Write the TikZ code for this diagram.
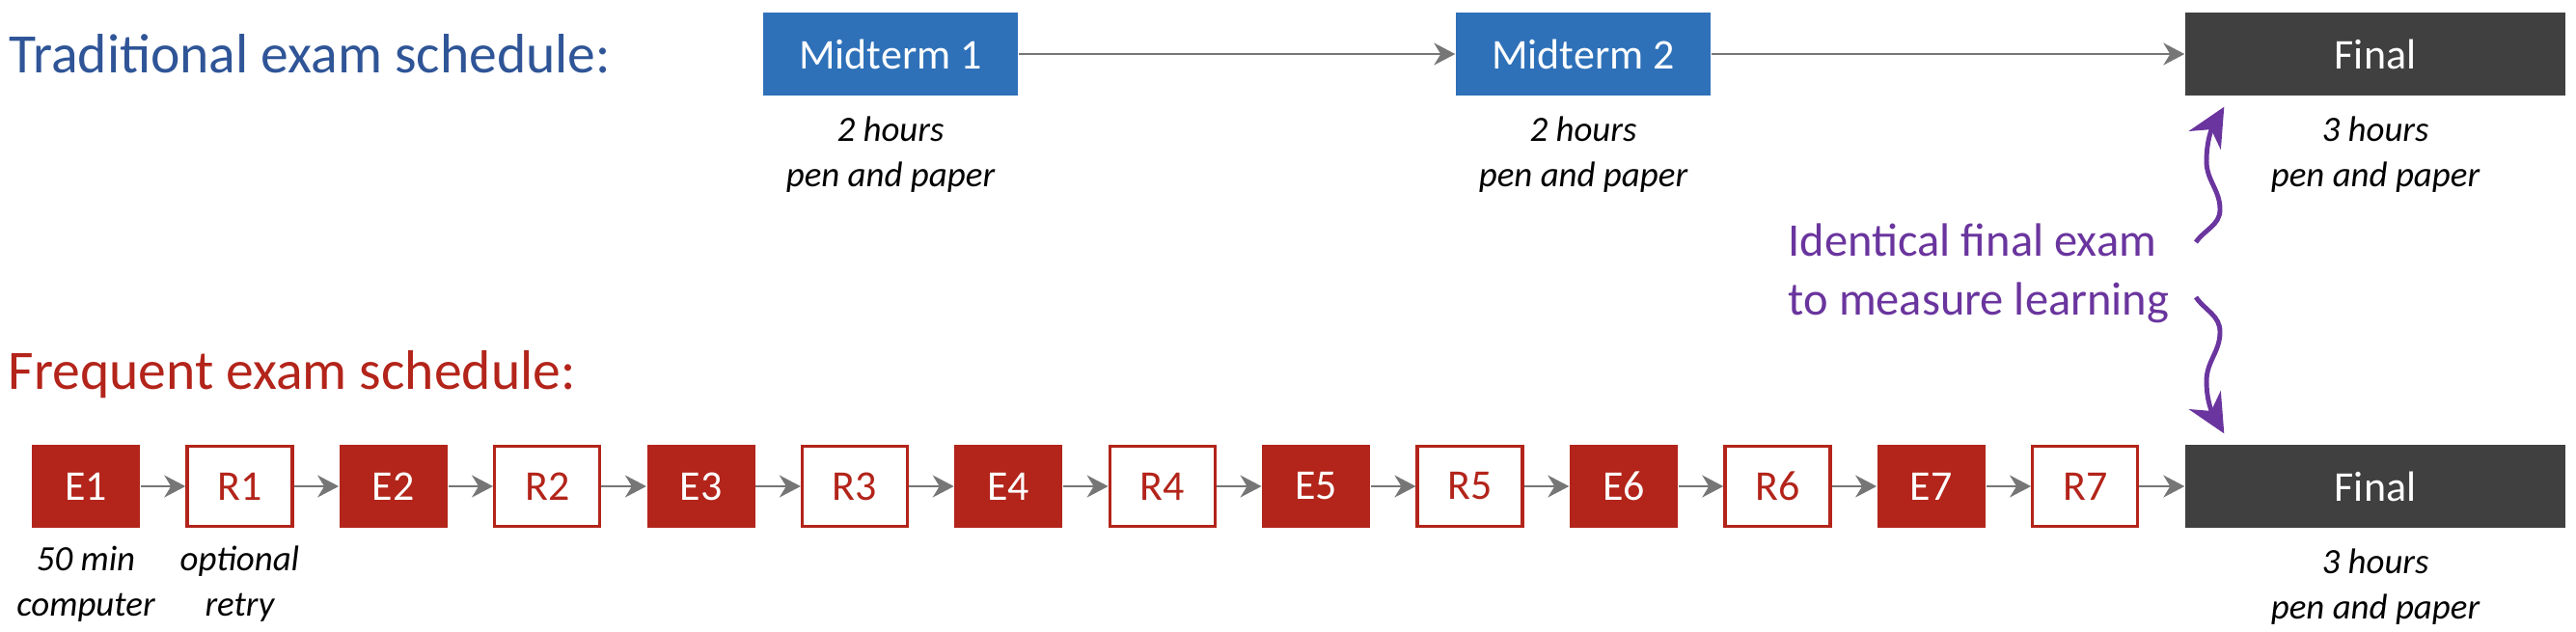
\documentclass[tikz,border=0pt]{standalone}
\usepackage{fontspec}
\setmainfont{Carlito}
\usetikzlibrary{arrows.meta}

\definecolor{tradblue}{HTML}{2F5597}
\definecolor{midblue}{HTML}{2E71B9}
\definecolor{freqred}{HTML}{B3241A}
\definecolor{finalgray}{HTML}{404040}
\definecolor{flowgray}{HTML}{767676}
\definecolor{linkpurple}{HTML}{6A359E}

\begin{document}
\begin{tikzpicture}[
   heading/.style={anchor=base west, inner sep=0pt, font=\fontsize{16.4}{19}\selectfont},
   midterm/.style={rectangle, fill=midblue, text=white, minimum width=2.64cm, minimum height=0.86cm, inner sep=0pt, font=\fontsize{12.5}{15}\selectfont},
   final/.style={rectangle, fill=finalgray, text=white, minimum width=3.94cm, minimum height=0.86cm, inner sep=0pt, font=\fontsize{12.5}{15}\selectfont},
   exambox/.style={rectangle, fill=freqred, text=white, minimum width=1.12cm, minimum height=0.86cm, inner sep=0pt, font=\fontsize{12.5}{15}\selectfont},
   retrybox/.style={rectangle, draw=freqred, line width=0.95pt, fill=white, text=freqred, minimum width=1.09cm, minimum height=0.83cm, inner sep=0pt, font=\fontsize{12.5}{15}\selectfont},
   note/.style={anchor=base, align=center, inner sep=0pt, font=\itshape\fontsize{10.5}{13.3}\selectfont},
   flow/.style={draw=flowgray, line width=0.5pt, -{Stealth[length=0.22cm, width=0.23cm, inset=0.07cm]}},
   link/.style={draw=linkpurple, line width=1.4pt, -{Stealth[length=0.4cm, width=0.38cm, inset=0.13cm]}}
  ]
   \useasboundingbox (0,0) rectangle (26.70,-6.54);

   % traditional schedule
   \node[heading, text=tradblue] (trad) at (0.09,-0.75) {Traditional exam schedule:};
   \node[midterm] (mid1) at (9.23,-0.56) {Midterm 1};
   \node[midterm] (mid2) at (16.41,-0.56) {Midterm 2};
   \node[final] (ftop) at (24.62,-0.56) {Final};
   \draw[flow] (mid1) -- (mid2);
   \draw[flow] (mid2) -- (ftop);
   \node[note] (mid1note) at ([yshift=-0.94cm]mid1.south) {2 hours\\pen and paper};
   \node[note] (mid2note) at ([yshift=-0.94cm]mid2.south) {2 hours\\pen and paper};
   \node[note] (ftopnote) at ([yshift=-0.94cm]ftop.south) {3 hours\\pen and paper};

   % frequent schedule
   \node[heading, text=freqred] (freq) at (0.08,-4.03) {Frequent exam schedule:};
   \node[exambox] (e1) at (0.89,-5.04) {E1};
   \node[retrybox] (r1) at (2.484,-5.04) {R1};
   \node[exambox] (e2) at (4.078,-5.04) {E2};
   \node[retrybox] (r2) at (5.672,-5.04) {R2};
   \node[exambox] (e3) at (7.266,-5.04) {E3};
   \node[retrybox] (r3) at (8.86,-5.04) {R3};
   \node[exambox] (e4) at (10.454,-5.04) {E4};
   \node[retrybox] (r4) at (12.048,-5.04) {R4};
   \node[exambox] (e5) at (13.642,-5.04) {E5};
   \node[retrybox] (r5) at (15.236,-5.04) {R5};
   \node[exambox] (e6) at (16.83,-5.04) {E6};
   \node[retrybox] (r6) at (18.424,-5.04) {R6};
   \node[exambox] (e7) at (20.018,-5.04) {E7};
   \node[retrybox] (r7) at (21.612,-5.04) {R7};
   \node[final] (fbot) at (24.62,-5.04) {Final};
   \draw[flow] (e1) -- (r1); \draw[flow] (r1) -- (e2);
   \draw[flow] (e2) -- (r2); \draw[flow] (r2) -- (e3);
   \draw[flow] (e3) -- (r3); \draw[flow] (r3) -- (e4);
   \draw[flow] (e4) -- (r4); \draw[flow] (r4) -- (e5);
   \draw[flow] (e5) -- (r5); \draw[flow] (r5) -- (e6);
   \draw[flow] (e6) -- (r6); \draw[flow] (r6) -- (e7);
   \draw[flow] (e7) -- (r7); \draw[flow] (r7) -- (fbot);
   \node[note] (e1note) at ([yshift=-0.91cm]e1.south) {50 min\\computer};
   \node[note] (r1note) at ([yshift=-0.91cm]r1.south) {optional\\retry};
   \node[note] (fbotnote) at ([yshift=-0.94cm]fbot.south) {3 hours\\pen and paper};

   % same final exam
   \node[anchor=base west, align=left, inner sep=0pt, text=linkpurple, font=\fontsize{13.8}{17.3}\selectfont] (same) at (18.53,-3.26) {Identical final exam\\to measure learning};
   \coordinate (uptail) at (22.76,-2.51);
   \coordinate (uptip) at ([shift={(0.41,-0.11)}]ftop.south west);
   \coordinate (downtail) at (22.76,-3.08);
   \coordinate (downtip) at ([shift={(0.41,0.11)}]fbot.north west);
   \draw[link] (uptail) to[out=55, in=-90] (23.01,-2.17) to[out=90, in=-90] (22.87,-1.67) to[out=90, in=-120] (uptip);
   \draw[link] (downtail) to[out=-55, in=90] (23.01,-3.44) to[out=-90, in=90] (22.87,-3.95) to[out=-90, in=120] (downtip);
  \end{tikzpicture}
\end{document}
